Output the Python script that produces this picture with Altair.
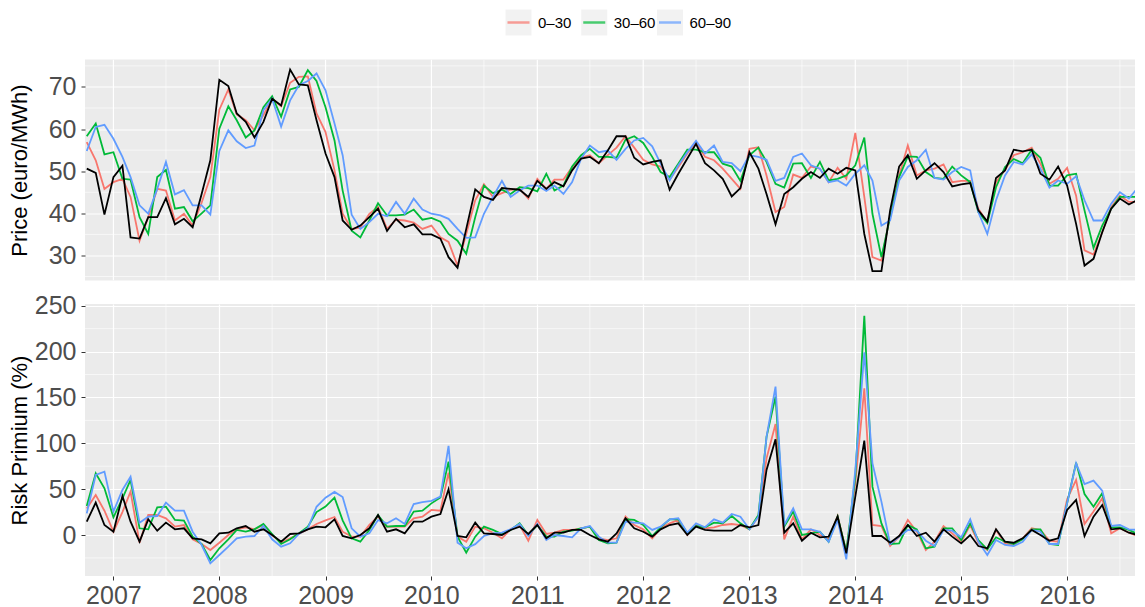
import altair as alt
import pandas as pd

# ---------------- data ----------------
months = pd.date_range("2006-10-01", periods=121, freq="MS").strftime("%Y-%m-%d").tolist()

series = ["0–30", "30–60", "60–90"]
colors = ["#F8766D", "#00BA38", "#619CFF"]

spot_price = [50.6, 49.6, 39.7, 48.6, 51.3, 34.3, 34.0, 39.1, 39.1, 43.6,
              37.4, 38.7, 36.7, 44.6, 52.6, 71.7, 70.2, 63.7, 61.7, 58.0,
              61.7, 67.2, 65.6, 74.1, 70.6, 70.4, 62.1, 54.2, 48.6, 38.3,
              36.1, 37.1, 39.1, 41.1, 35.8, 38.7, 36.7, 37.4, 35.0, 35.0,
              34.0, 29.6, 27.1, 36.3, 45.7, 43.9, 43.2, 46.0, 45.8, 45.6,
              43.9, 47.7, 45.8, 47.4, 46.4, 50.2, 53.0, 53.4, 51.9, 54.9,
              58.3, 58.3, 53.2, 51.6, 52.2, 52.6, 45.6, 49.4, 53.0, 56.5,
              51.9, 50.2, 48.2, 44.0, 46.0, 54.5, 50.6, 44.6, 37.4, 44.6,
              46.2, 48.2, 49.8, 48.4, 50.6, 49.4, 50.8, 50.2, 35.1, 26.3,
              26.3, 40.7, 51.1, 53.8, 48.2, 50.2, 51.9, 49.8, 46.4, 46.9,
              47.2, 40.7, 38.1, 48.4, 50.2, 55.1, 54.7, 55.1, 49.4, 48.0,
              51.1, 46.6, 37.5, 27.6, 29.2, 35.5, 41.1, 43.5, 42.1, 43.2,
              44.6]

price_0_30 = [56.9, 52.6, 45.8, 47.4, 48.2, 43.9, 33.5, 39.1, 45.8, 45.4,
              38.3, 39.9, 37.1, 42.5, 48.6, 64.6, 69.4, 63.5, 62.1, 59.7,
              63.3, 67.2, 65.4, 71.0, 72.4, 72.5, 63.7, 59.3, 50.2, 39.9,
              36.3, 36.6, 39.9, 41.5, 36.3, 38.5, 38.3, 37.8, 36.3, 37.1,
              34.3, 33.2, 27.6, 35.1, 43.1, 46.9, 43.9, 44.8, 45.6, 45.8,
              43.5, 48.2, 45.8, 48.0, 48.0, 51.0, 53.2, 53.8, 51.9, 53.8,
              55.6, 58.3, 55.6, 52.7, 51.6, 51.1, 48.0, 51.0, 54.2, 56.9,
              53.4, 52.6, 50.6, 48.2, 45.8, 55.3, 55.7, 49.0, 40.3, 41.5,
              49.2, 48.4, 51.1, 50.6, 47.4, 50.8, 48.2, 59.1, 43.9, 29.6,
              28.8, 39.5, 49.0, 56.1, 49.0, 50.2, 50.6, 51.6, 47.4, 47.7,
              47.7, 41.1, 37.9, 47.4, 50.3, 53.8, 54.5, 55.6, 51.8, 47.0,
              48.2, 50.8, 44.2, 31.2, 30.2, 35.5, 41.5, 44.2, 42.7, 42.7,
              42.3]

price_30_60 = [58.3, 61.3, 54.0, 54.5, 48.2, 48.0, 39.1, 35.1, 48.6, 50.3,
               41.1, 41.5, 38.1, 40.0, 41.9, 60.1, 65.4, 62.1, 58.0, 59.7,
               65.2, 67.8, 62.9, 69.4, 70.0, 74.0, 71.4, 65.2, 57.3, 45.4,
               35.9, 34.3, 38.3, 42.4, 39.5, 39.5, 39.7, 40.9, 38.5, 38.9,
               38.0, 35.1, 33.5, 30.4, 39.1, 46.6, 44.8, 45.6, 44.6, 46.2,
               46.0, 45.2, 49.4, 45.4, 46.6, 51.1, 53.8, 55.3, 53.4, 53.4,
               53.2, 57.5, 58.3, 56.7, 53.4, 49.8, 48.6, 51.8, 55.1, 55.1,
               54.5, 54.5, 51.8, 51.1, 47.7, 53.8, 55.6, 52.2, 47.0, 46.1,
               51.8, 51.9, 48.4, 52.2, 47.8, 48.2, 49.0, 51.4, 58.0, 39.9,
               29.6, 39.1, 48.6, 53.5, 53.4, 49.8, 48.4, 48.2, 51.1, 49.0,
               47.4, 40.3, 37.7, 46.2, 51.0, 52.9, 51.9, 55.1, 53.2, 46.6,
               46.6, 49.0, 49.4, 40.7, 31.8, 37.1, 41.1, 43.9, 43.9, 43.9,
               42.4]

price_60_90 = [54.8, 60.5, 61.0, 57.7, 53.4, 48.6, 41.9, 39.9, 45.8, 52.2,
               44.5, 45.5, 41.9, 41.9, 39.7, 54.8, 59.7, 57.1, 55.5, 56.1,
               64.5, 67.2, 60.6, 66.8, 70.4, 71.4, 73.2, 69.2, 61.3, 53.8,
               39.7, 36.3, 37.9, 39.9, 39.3, 42.7, 39.9, 43.5, 40.9, 39.9,
               39.5, 38.7, 36.3, 34.2, 34.3, 39.9, 43.9, 47.7, 43.9, 45.4,
               46.6, 46.6, 45.3, 46.6, 44.6, 47.4, 53.0, 56.1, 54.5, 54.9,
               52.7, 55.3, 57.3, 57.9, 55.9, 51.8, 47.8, 51.4, 54.5, 57.2,
               54.2, 56.1, 52.2, 51.9, 50.0, 53.8, 53.4, 52.7, 47.7, 48.4,
               53.4, 54.2, 51.4, 50.6, 47.4, 47.8, 46.6, 49.4, 51.4, 47.8,
               37.1, 38.3, 47.8, 51.0, 52.6, 55.1, 48.4, 48.0, 49.8, 51.0,
               50.2, 40.3, 35.1, 43.1, 49.0, 52.2, 51.6, 54.0, 50.6, 46.1,
               47.8, 47.0, 48.8, 43.1, 38.3, 38.3, 42.3, 45.0, 43.5, 46.1,
               44.6]

spot_rp = [14.5, 35.3, 10.9, 3.6, 42.5, 14.5, -7.3, 17.1, 4.7, 13.5,
           6.2, 7.3, -3.6, -4.7, -9.1, 1.8, 2.5, 7.3, 9.8, 3.6,
           6.2, 0.0, -7.3, 1.1, 1.8, 6.2, 9.1, 8.4, 17.0, -1.0,
           -3.6, 0.0, 7.3, 21.8, 3.6, 6.2, 1.8, 14.5, 14.5, 20.0,
           22.9, 49.8, -1.1, -2.5, 13.5, 1.8, 1.1, 0.0, 5.5, 9.1,
           1.1, 10.9, -3.6, 2.5, 2.5, 5.5, 5.5, 0.0, -4.7, -7.3,
           1.8, 18.2, 7.3, 3.6, -1.8, 6.2, 10.9, 12.7, 0.0, 9.1,
           5.5, 4.7, 4.7, 4.7, 10.9, 8.4, 10.9, 70.9, 104.4, 2.5,
           12.7, -6.2, 2.5, -2.5, -1.8, 20.0, -20.0, 41.8, 102.9, -1.1,
           -1.1, -8.4, -1.1, 10.9, -1.1, 2.5, -7.3, 6.2, -1.8, -9.1,
           0.0, -12.0, -14.5, 6.2, -7.3, -8.4, -3.6, 5.5, 0.0, -6.2,
           -3.6, 27.3, 38.2, -1.1, 20.0, 32.7, 6.2, 7.3, 2.5, 0.0,
           -12.7]

rp_0_30 = [29.0, 43.6, 26.5, 3.6, 25.0, 47.3, -8.4, 21.8, 21.8, 18.2,
           9.1, 10.9, -4.7, -9.8, -16.4, -8.4, 0.0, 6.2, 8.4, 6.2,
           10.9, 0.0, -8.4, -3.6, 1.1, 6.2, 12.0, 16.0, 19.6, 3.6,
           -1.8, -1.8, 11.0, 20.0, 9.0, 9.1, 9.1, 18.2, 20.0, 27.3,
           26.5, 68.0, -1.8, -7.3, 9.1, 7.3, 2.5, -3.6, 6.2, 10.9,
           -6.2, 16.4, 1.1, 2.5, 5.5, 5.5, 7.3, 9.1, -3.6, -5.5,
           -3.6, 20.0, 10.9, 6.2, -3.6, 7.3, 12.7, 16.4, 0.0, 10.9,
           7.3, 8.4, 10.9, 12.0, 10.9, 6.2, 20.0, 83.6, 121.0, -4.7,
           20.0, -4.7, 6.2, 0.0, -4.7, 20.7, -18.2, 56.4, 160.0, 10.9,
           9.8, -12.0, -1.8, 16.4, 3.6, -16.4, -7.3, 9.8, 1.8, -7.3,
           10.9, -8.4, -16.4, 5.5, -9.1, -10.9, -3.6, 7.3, 5.5, -6.2,
           -7.3, 38.9, 60.0, 12.0, 25.5, 40.0, 1.8, 7.3, 2.5, -1.1,
           -12.7]

rp_30_60 = [31.6, 67.3, 50.9, 19.3, 40.0, 60.0, 7.3, 6.2, 30.2, 30.9,
            16.4, 15.6, -1.8, -9.8, -27.3, -14.5, -4.7, 5.5, 3.6, 6.2,
            12.0, 1.1, -9.8, -4.7, 1.8, 9.1, 25.0, 31.0, 40.7, 16.0,
            -3.6, -7.3, 5.5, 21.8, 9.1, 9.8, 9.8, 25.5, 26.5, 34.5,
            41.0, 80.0, -1.8, -19.3, -1.8, 9.1, 5.5, 1.1, 5.5, 12.7,
            0.0, 10.9, -1.8, -1.8, 3.6, 4.7, 7.3, 9.1, -5.5, -9.1,
            -8.4, 17.1, 16.4, 10.9, -1.1, 8.4, 17.1, 17.1, 1.8, 9.8,
            8.4, 13.5, 12.7, 20.7, 12.7, 6.2, 21.8, 107.0, 150.9, 9.1,
            25.5, 0.0, 1.8, 3.6, -7.3, 20.0, -18.2, 63.6, 238.9, 52.7,
            12.7, -9.8, -9.1, 10.9, 6.2, -14.5, -12.7, 7.3, 7.3, -5.5,
            12.7, -5.5, -15.6, -2.5, -7.3, -9.8, -4.7, 6.2, 6.2, -9.8,
            -10.9, 34.5, 78.9, 44.7, 30.9, 45.5, 8.4, 8.4, 5.5, 1.1,
            -14.5]

rp_60_90 = [23.6, 65.5, 69.1, 25.5, 49.1, 63.6, 13.5, 20.0, 20.7, 35.3,
            26.5, 26.5, 3.6, -10.9, -30.9, -21.8, -12.7, -3.6, -1.8, -1.1,
            9.8, -4.7, -12.7, -9.1, 1.1, 7.3, 30.8, 40.7, 47.0, 41.4,
            7.3, -1.8, 1.8, 16.3, 12.7, 18.2, 12.0, 33.8, 35.9, 37.3,
            41.8, 97.1, -8.4, -14.5, -10.0, -1.1, 1.8, 2.5, 6.2, 12.0,
            -1.1, 12.0, -5.5, 0.0, -1.1, -2.5, 7.3, 9.8, -1.8, -8.4,
            -8.4, 14.5, 13.5, 12.7, 5.5, 9.1, 17.1, 18.2, 2.5, 12.7,
            8.4, 17.1, 13.5, 22.9, 20.0, 6.2, 20.0, 107.0, 161.8, 10.9,
            29.1, 6.2, 6.2, 3.6, -7.3, 16.4, -26.5, 70.9, 199.3, 78.2,
            36.4, -9.8, -1.8, 5.5, 4.7, -6.2, -12.0, 5.5, 4.7, -2.5,
            17.1, -7.3, -21.8, -5.5, -10.9, -12.0, -7.3, 5.5, 3.6, -9.8,
            -9.8, 34.5, 78.2, 55.6, 59.3, 48.4, 9.8, 10.9, 6.2, 5.5,
            -9.8]

year_labels = list(range(2007, 2017))
minor_years = list(range(2006, 2017))
price_ticks = [30, 40, 50, 60, 70]
price_minor = [25, 35, 45, 55, 65, 75]
rp_ticks = [0, 50, 100, 150, 200, 250]
rp_minor = [-25, 25, 75, 125, 175, 225]

# ---------------- chart ----------------
FONT = "Liberation Sans"
PANEL_W = 1050

x_scale = alt.Scale(type="utc", domain=[alt.DateTime(year=2006, month=9, date=25, utc=True),
                                        alt.DateTime(year=2016, month=8, date=22, utc=True)])
year_vals = [alt.DateTime(year=y, month=1, date=1, utc=True) for y in year_labels]
color_scale = alt.Scale(domain=series, range=colors)


def panel(spot, fwd_lists, ydomain, yticks, yminor, ytitle, height, show_x):
    fwd = pd.DataFrame({
        "date": months * 3,
        "value": sum(fwd_lists, []),
        "series": [s for s in series for _ in months],
    })
    spot_df = pd.DataFrame({"date": months, "value": spot})
    if show_x:
        xaxis = alt.Axis(values=year_vals, format="%Y", title=None, labelFlush=False,
                         labelPadding=3, grid=True)
    else:
        xaxis = None
    yaxis = alt.Axis(values=yticks, title=ytitle, minExtent=51, maxExtent=51,
                     titlePadding=3, labelPadding=5, grid=True)
    yscale = alt.Scale(domain=ydomain, nice=False, zero=False)
    X = alt.X("date:T", scale=x_scale, axis=xaxis)
    Y = alt.Y("value:Q", scale=yscale, axis=yaxis)

    vminor = alt.Chart(pd.DataFrame({"date": [f"{y}-07-01" for y in minor_years]})).mark_rule(
        color="white", strokeWidth=0.6, clip=True).encode(x=X)
    vmajor = alt.Chart(pd.DataFrame({"date": [f"{y}-01-01" for y in year_labels]})).mark_rule(
        color="white", strokeWidth=1.2, clip=True).encode(x=X)
    hminor = alt.Chart(pd.DataFrame({"value": yminor})).mark_rule(
        color="white", strokeWidth=0.6, clip=True).encode(y=Y)
    fwd_lines = alt.Chart(fwd).mark_line(strokeWidth=1.8, clip=True).encode(
        x=X, y=Y, color=alt.Color("series:N", scale=color_scale, legend=None))
    spot_line = alt.Chart(spot_df).mark_line(color="black", strokeWidth=1.8, clip=True).encode(x=X, y=Y)
    layers = [vminor, hminor, fwd_lines, spot_line]
    if not show_x:
        layers = [vminor, vmajor, hminor, fwd_lines, spot_line]
    return alt.layer(*layers).properties(
        width=PANEL_W, height=height,
        view=alt.ViewBackground(fill="#EBEBEB", stroke=None))


top = panel(spot_price, [price_0_30, price_30_60, price_60_90], [24.06, 76.51],
            price_ticks, price_minor, "Price (euro/MWh)", 221, False)
bottom = panel(spot_rp, [rp_0_30, rp_30_60, rp_60_90], [-44.7, 251.85],
               rp_ticks, rp_minor, "Risk Primium (%)", 272, True)

legend_df = pd.DataFrame({"series": series})
lx = alt.X("series:N", scale=alt.Scale(type="point", domain=series, range=[433.5, 585], padding=0),
           axis=None)
boxes = alt.Chart(legend_df).mark_square(size=676, color="#F2F2F2", opacity=1).encode(x=lx)
keys = alt.Chart(legend_df).mark_tick(orient="horizontal", size=22, thickness=2.5).encode(
    x=lx, color=alt.Color("series:N", scale=color_scale, legend=None))
labels = alt.Chart(legend_df).mark_text(align="left", dx=19.5, fontSize=15, font=FONT,
                                        color="black").encode(x=lx, text="series:N")
legend = alt.layer(boxes, keys, labels).properties(
    width=PANEL_W, height=27, view=alt.ViewBackground(fill="white", stroke=None))

chart = alt.vconcat(legend, top, bottom, spacing=23.5, bounds="flush").properties(
    padding={"left": 0, "top": 1, "right": 0, "bottom": 0}
).configure_axis(
    labelFont=FONT, titleFont=FONT, labelFontSize=25, titleFontSize=22,
    labelColor="#4D4D4D", titleColor="black", titleFontWeight="normal",
    tickColor="#333333", tickSize=4, domain=False, gridColor="white", gridWidth=1.2,
).configure_view(stroke=None)

chart.save("out.html", embed_options={"renderer": "svg", "actions": False})
